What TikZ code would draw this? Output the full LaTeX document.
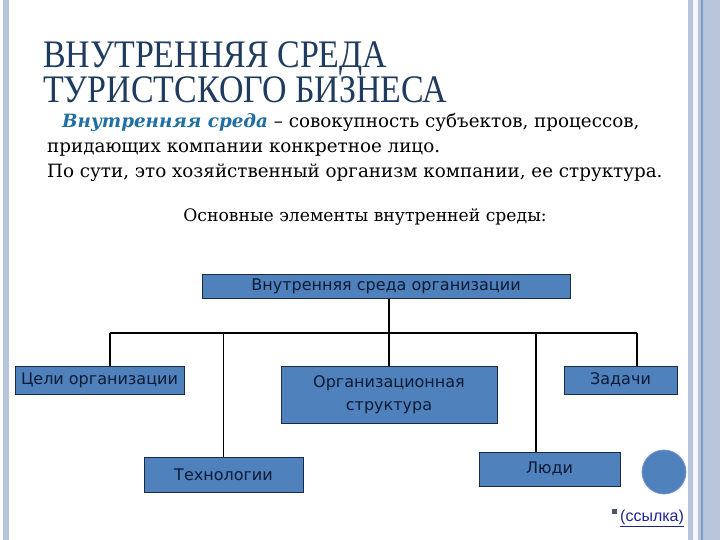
\documentclass[tikz,border=0pt]{standalone}
\usepackage{fontspec}
\usepackage{xcolor}
\usepackage{tikz}
\usetikzlibrary{positioning}
\setmainfont{DejaVu Serif}
\newfontfamily\boxfont{DejaVu Sans}
\newfontfamily\linkfont{Liberation Sans}
\newcommand{\headline}[1]{\scalebox{0.87}[1]{#1}}
\definecolor{titleblue}{HTML}{1F3B5E}
\definecolor{termblue}{HTML}{1F6FA3}
\definecolor{boxfill}{HTML}{4F81BD}
\definecolor{boxline}{HTML}{1C2A44}
\definecolor{boxtext}{HTML}{0E1B33}
\definecolor{sidegrey}{HTML}{B7C4D9}
\definecolor{sideline}{HTML}{7E9BCB}
\definecolor{linkblue}{HTML}{1E2590}

\begin{document}
\begin{tikzpicture}[x=1pt, y=-1pt,
  block/.style={draw=boxline, line width=1pt, fill=boxfill, text=boxtext,
    font=\boxfont\fontsize{16}{23}\selectfont, inner sep=0pt, align=center},
  conn/.style={draw=black, line width=1.1pt},
  headtext/.style={anchor=north west, inner sep=0pt, text=titleblue, align=left,
    font=\fontspec{Liberation Serif}\fontsize{39}{35}\selectfont},
  bodytext/.style={anchor=base west, inner sep=0pt, font=\fontsize{18.3}{25}\selectfont}]
  \useasboundingbox (0,0) rectangle (720,540);
  % slide frame
  \fill[white] (0,0) rectangle (720,540);
  \fill[sidegrey] (3,0) rectangle (9,540);
  \fill[sidegrey] (688,0) rectangle (720,540);
  \fill[white!85!sidegrey] (693,0) rectangle (698,540);
  \draw[sideline, line width=1.5pt] (702,0) -- (702,540);

  % heading and definition
  \node[headtext] (title) at (43,41) {\headline{ВНУТРЕННЯЯ СРЕДА}\\\headline{ТУРИСТСКОГО БИЗНЕСА}};
  \node[bodytext] (def1) at (62,128) {{\color{termblue}\bfseries\itshape Внутренняя среда} – совокупность субъектов, процессов,};
  \node[bodytext] (def2) at (47,153) {придающих компании конкретное лицо.};
  \node[bodytext] (def3) at (47,178) {По сути, это хозяйственный организм компании, ее структура.};
  \node[anchor=base, inner sep=0pt, font=\fontsize{17.2}{19}\selectfont] (subhead) at (365,222) {Основные элементы внутренней среды:};

  % tree
  \node[block, minimum width=368pt, minimum height=24pt] (env) at (386,286.5) {Внутренняя среда организации};
  \node[block, minimum width=169pt, minimum height=28pt] (goals) at (99.5,380) {Цели организации};
  \node[block, minimum width=216pt, minimum height=57pt] (org) at (389,394.5) {Организационная\\структура};
  \node[block, minimum width=113pt, minimum height=28pt] (tasks) at (620.5,380) {Задачи};
  \node[block, minimum width=159pt, minimum height=35pt] (tech) at (223.5,474.5) {Технологии};
  \node[block, minimum width=141pt, minimum height=34pt] (people) at (549.5,469) {Люди};

  \coordinate (busL) at (110,333);
  \coordinate (busP) at (536,333);
  \coordinate (busR) at (637,333);
  \draw[conn] (busL) -- (busR);
  \draw[conn] (org.north |- env.south) -- (org.north |- busL);
  \draw[conn] (busL) -- (busL |- goals.north);
  \draw[conn] (tech.north |- busL) -- (tech.north);
  \draw[conn] (org.north |- busL) -- (org.north);
  \draw[conn] (busP) -- (busP |- people.north);
  \draw[conn] (busR) -- (busR |- tasks.north);

  % decoration and link
  \node[circle, fill=boxfill, draw=boxfill!80!white, line width=0.8pt, minimum size=44pt, inner sep=0pt] (dot) at (664,472) {};
  \node[anchor=base west, inner sep=0pt, text=linkblue, font=\linkfont\fontsize{16}{18}\selectfont] (link) at (620,521) {\underline{(ссылка)}};
  \node[fill=boxline!80!white, minimum size=5pt, inner sep=0pt] (bullet) at (614,511) {};
\end{tikzpicture}
\end{document}
